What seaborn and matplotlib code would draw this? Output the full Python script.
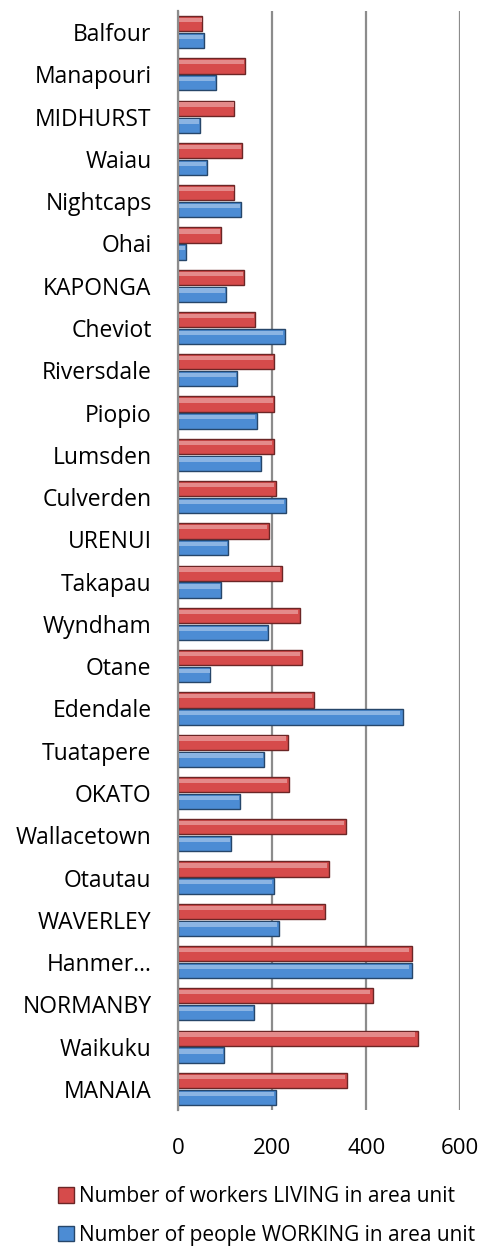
import pandas as pd
import numpy as np
import matplotlib.pyplot as plt
import seaborn as sns
from matplotlib.patches import Rectangle

# area units, top to bottom as drawn
areas = ['Balfour', 'Manapouri', 'MIDHURST', 'Waiau', 'Nightcaps', 'Ohai',
         'KAPONGA', 'Cheviot', 'Riversdale', 'Piopio', 'Lumsden', 'Culverden',
         'URENUI', 'Takapau', 'Wyndham', 'Otane', 'Edendale', 'Tuatapere',
         'OKATO', 'Wallacetown', 'Otautau', 'WAVERLEY', 'Hanmer…', 'NORMANBY',
         'Waikuku', 'MANAIA']

living = [52, 142, 120, 137, 120, 91,
          140, 163, 205, 205, 203, 208,
          193, 220, 259, 263, 289, 233,
          235, 358, 321, 312, 498, 415,
          511, 360]

working = [55, 80, 46, 61, 133, 16,
           101, 227, 125, 167, 177, 229,
           106, 91, 191, 69, 479, 183,
           131, 112, 203, 214, 498, 161,
           97, 208]

living_label = 'Number of workers LIVING in area unit'
working_label = 'Number of people WORKING in area unit'

df = pd.DataFrame({'area': areas, living_label: living, working_label: working})
long_df = df.melt(id_vars='area', var_name='series', value_name='count')

sns.set_style('white')
plt.rcParams['font.family'] = ['Open Sans', 'DejaVu Sans']
plt.rcParams['text.color'] = 'black'
plt.rcParams['xtick.color'] = 'black'
plt.rcParams['ytick.color'] = 'black'

fig = plt.figure(figsize=(4.83, 12.46), dpi=100)
ax = fig.add_axes([178 / 483, 1 - 1110 / 1246, (460.3 - 178) / 483, (1110 - 11) / 1246])

pal = {living_label: '#D64B4B', working_label: '#4C8CD4'}
sns.barplot(data=long_df, y='area', x='count', hue='series', orient='h',
            palette=pal, width=0.8, gap=0.1, ax=ax, saturation=1)

# darker outline + light top strip to hint at the bevelled bars
bars = list(ax.patches)
for bar in bars:
    fc = bar.get_facecolor()
    bar.set_edgecolor(tuple(c * 0.5 for c in fc[:3]))
    bar.set_linewidth(1.0)
    x0, y0 = bar.get_x(), bar.get_y()
    w, h = bar.get_width(), bar.get_height()
    light = tuple(min(1, c + (1 - c) * 0.35) for c in fc[:3])
    ax.add_patch(Rectangle((x0, y0 + h * 0.12), w * 0.985, h * 0.28,
                           facecolor=light, edgecolor='none', zorder=bar.get_zorder() + 0.1))

ax.set_xlim(0, 600)
ax.set_xticks([0, 200, 400, 600])
ax.xaxis.grid(True, color='#8C8C8C', linewidth=1.6)
ax.set_axisbelow(True)
for s in ['top', 'right', 'bottom']:
    ax.spines[s].set_visible(False)
ax.spines['left'].set_color('#8C8C8C')
ax.spines['left'].set_linewidth(1.6)
ax.set_xlabel('')
ax.set_ylabel('')
ax.tick_params(axis='y', labelsize=16.5, length=0, pad=19)
ax.tick_params(axis='x', labelsize=16, length=0, pad=20)

handles, labels = ax.get_legend_handles_labels()
ax.get_legend().remove()
fig.legend(handles, labels, loc='upper left', bbox_to_anchor=(50 / 483, 1 - 1178 / 1246),
           frameon=False, fontsize=15, handlelength=0.75, handleheight=0.75,
           handletextpad=0.25, labelspacing=0.85, borderaxespad=0)

fig.savefig('out.png', dpi=100)
